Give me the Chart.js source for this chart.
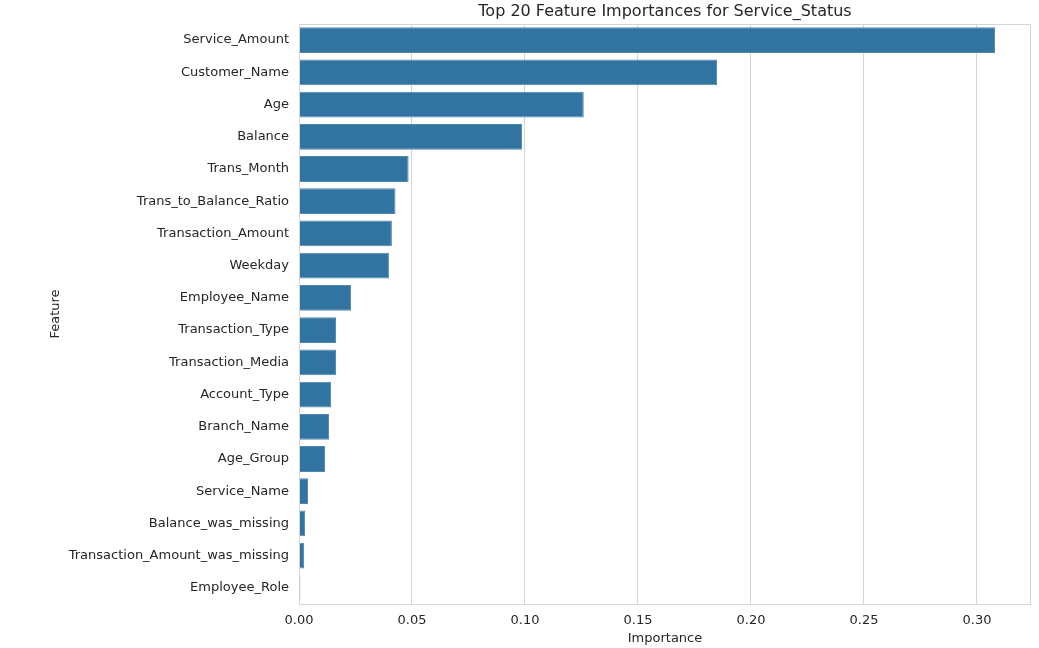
<!DOCTYPE html>
<html>
<head>
<meta charset="utf-8">
<script src="https://cdn.jsdelivr.net/npm/chart.js@4"></script>
<style>
  html, body { margin: 0; padding: 0; background: #fff; }
  #wrap { width: 1039px; height: 648px; }
</style>
</head>
<body>
<div id="wrap"><canvas id="featChart" width="1039" height="648"></canvas></div>
<script>
const features = [
  "Service_Amount",
  "Customer_Name",
  "Age",
  "Balance",
  "Trans_Month",
  "Trans_to_Balance_Ratio",
  "Transaction_Amount",
  "Weekday",
  "Employee_Name",
  "Transaction_Type",
  "Transaction_Media",
  "Account_Type",
  "Branch_Name",
  "Age_Group",
  "Service_Name",
  "Balance_was_missing",
  "Transaction_Amount_was_missing",
  "Employee_Role",
];
const importances = [
  0.308, 0.185, 0.126, 0.0987, 0.0485, 0.0427, 0.0411, 0.0398, 0.0230,
  0.0164, 0.0164, 0.0142, 0.0133, 0.0115, 0.0040, 0.0027, 0.0022, 0.0006,
];
const xTicks = [0.0, 0.05, 0.1, 0.15, 0.2, 0.25, 0.3];
const chartTitle = "Top 20 Feature Importances for Service_Status";

const textColor = "#262626";
const gridColor = "#d5d5d5";
Chart.defaults.font.family = "'DejaVu Sans', sans-serif";
Chart.defaults.color = textColor;

// seaborn whitegrid: four spines, title centred over the axes
const frame = {
  id: "frame",
  afterDatasetsDraw(chart) {
    const { ctx, chartArea: a } = chart;
    ctx.save();
    ctx.strokeStyle = gridColor;
    ctx.lineWidth = 1;
    ctx.strokeRect(a.left + 0.5, a.top + 0.5, a.right - a.left - 1, a.bottom - a.top);
    ctx.fillStyle = textColor;
    ctx.font = "16px 'DejaVu Sans', sans-serif";
    ctx.textAlign = "center";
    ctx.textBaseline = "middle";
    ctx.fillText(chartTitle, (a.left + a.right) / 2, a.top - 12);
    ctx.restore();
  },
};

new Chart(document.getElementById("featChart"), {
  type: "bar",
  data: {
    labels: features,
    datasets: [
      {
        label: "Importance",
        data: importances,
        backgroundColor: "#3274a1",
        borderColor: "#4f88b0",
        borderWidth: 1,
        barPercentage: 0.8,
        categoryPercentage: 1.0,
      },
    ],
  },
  options: {
    indexAxis: "y",
    responsive: false,
    animation: false,
    layout: { padding: { left: 48, right: 8, top: 24, bottom: 0 } },
    plugins: {
      legend: { display: false },
      tooltip: { enabled: false },
      title: { display: false },
    },
    scales: {
      x: {
        type: "linear",
        min: 0,
        max: 0.3239,
        afterBuildTicks: (scale) => {
          scale.ticks = xTicks.map((v) => ({ value: v }));
        },
        afterFit: (scale) => {
          scale.height = 44;
        },
        ticks: {
          padding: 9,
          font: { size: 13 },
          color: textColor,
          callback: (v) => Number(v).toFixed(2),
        },
        grid: { color: gridColor, drawTicks: false },
        border: { display: false },
        title: {
          display: true,
          text: "Importance",
          color: textColor,
          font: { size: 13 },
          padding: { top: 0, bottom: 2 },
        },
      },
      y: {
        afterFit: (scale) => {
          scale.width = 251;
        },
        ticks: { padding: 10, font: { size: 13 }, color: textColor, autoSkip: false },
        grid: { display: false, drawTicks: false },
        border: { display: false },
        title: {
          display: true,
          text: "Feature",
          color: textColor,
          font: { size: 13 },
          padding: { top: 0, bottom: 0 },
        },
      },
    },
  },
  plugins: [frame],
});
</script>
</body>
</html>
